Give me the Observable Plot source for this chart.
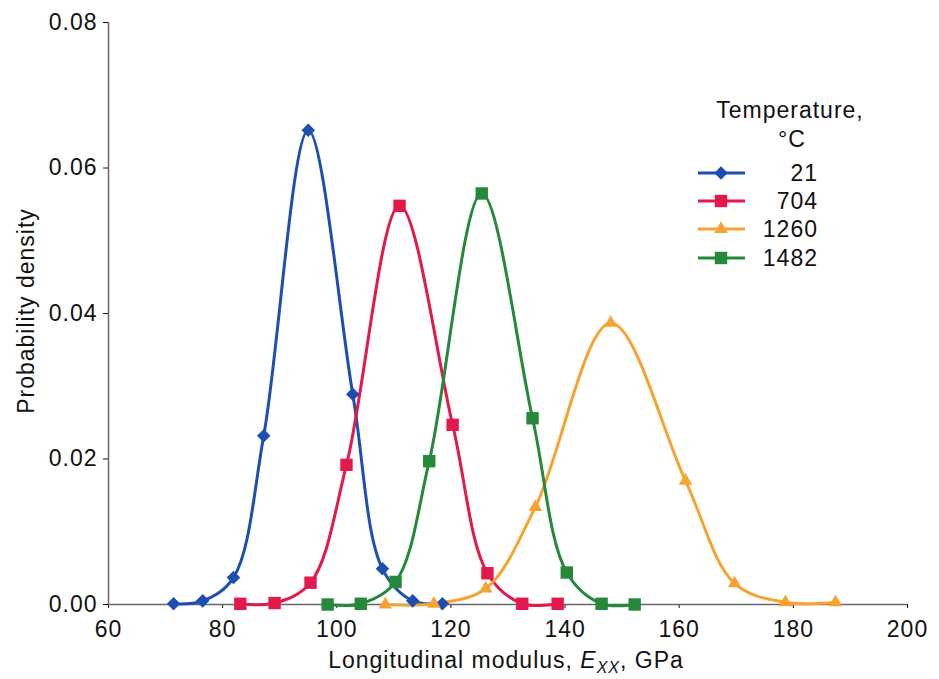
<!DOCTYPE html>
<html>
<head>
<meta charset="utf-8">
<script src="https://cdn.jsdelivr.net/npm/d3@7"></script>
<script src="https://cdn.jsdelivr.net/npm/@observablehq/plot@0.6"></script>
<style>
  html, body { margin: 0; padding: 0; background: #fff; }
  #chart { width: 939px; height: 679px; }
  svg { font-family: "Liberation Sans", Arial, Helvetica, sans-serif; }
  svg text { letter-spacing: 1px; }
</style>
</head>
<body>
<div id="chart"></div>
<script>
// ---- data ----
const temperatures = ["21", "704", "1260", "1482"];
const colors = ["#1d4fb3", "#e3194e", "#f7a331", "#25893a"];

const modulus21 = [71.4, 76.5, 81.9, 87.2, 95.0, 102.8, 108.0, 113.3, 118.5];
const density21 = [0.0001, 0.0005, 0.0037, 0.0232, 0.0652, 0.0289, 0.0049, 0.0005, 0.0001];

const modulus704 = [83.1, 89.1, 95.4, 101.7, 111.0, 120.3, 126.4, 132.5, 138.7];
const density704 = [0.0001, 0.0002, 0.0030, 0.0192, 0.0548, 0.0247, 0.0043, 0.0001, 0.0001];

const modulus1260 = [108.5, 117.0, 126.1, 134.8, 148.0, 161.1, 169.7, 178.6, 187.4];
const density1260 = [0.0000, 0.0001, 0.0022, 0.0134, 0.0387, 0.0170, 0.0029, 0.0003, 0.0003];

const modulus1482 = [98.4, 104.2, 110.3, 116.2, 125.4, 134.3, 140.3, 146.4, 152.2];
const density1482 = [0.0000, 0.0001, 0.0031, 0.0197, 0.0565, 0.0256, 0.0044, 0.0001, 0.0000];

const xTicks = [60, 80, 100, 120, 140, 160, 180, 200];
const yTicks = [0, 0.02, 0.04, 0.06, 0.08];

// ---- build table ----
const seriesX = [modulus21, modulus704, modulus1260, modulus1482];
const seriesY = [density21, density704, density1260, density1482];
const rows = [];
temperatures.forEach((t, i) => {
  seriesX[i].forEach((x, j) => rows.push({temp: t, x, y: seriesY[i][j]}));
});

const diamondSym = {
  draw(context, size) {
    const r = Math.sqrt(size / 2);
    context.moveTo(0, -r); context.lineTo(r, 0); context.lineTo(0, r); context.lineTo(-r, 0); context.closePath();
  }
};
const symbols = [diamondSym, "square", "triangle", "square"];
const radii = [5.4, 7.0, 5.0, 7.0];

const marks = [
  Plot.ruleY([0], {stroke: "#666", strokeWidth: 1.5}),
  Plot.ruleX([60], {stroke: "#666", strokeWidth: 1.5})
];
temperatures.forEach((t, i) => {
  const d = rows.filter(r => r.temp === t);
  marks.push(Plot.line(d, {x: "x", y: "y", stroke: colors[i], strokeWidth: 3, curve: "catmull-rom"}));
});
temperatures.forEach((t, i) => {
  const d = rows.filter(r => r.temp === t);
  marks.push(Plot.dot(d, {x: "x", y: "y", fill: colors[i], symbol: () => symbols[i], r: radii[i], stroke: "none"}));
});

const plot = Plot.plot({
  width: 939,
  height: 679,
  marginLeft: 108,
  marginRight: 32,
  marginTop: 22,
  marginBottom: 75,
  style: {fontSize: "23px", fontFamily: "'Liberation Sans', Arial, sans-serif", color: "#111", background: "#fff"},
  x: {domain: [60, 200], ticks: xTicks, tickSize: 4, tickPadding: 12, label: null, line: false, tickFormat: d3.format("d")},
  y: {domain: [0, 0.08], ticks: yTicks, tickSize: 5, tickPadding: 6, label: null, tickFormat: d3.format(".2f")},
  marks
});

const svg = d3.select(plot);

// y-axis title
svg.append("text")
  .attr("transform", "translate(34,311) rotate(-90)")
  .attr("text-anchor", "middle")
  .attr("font-size", 23)
  .attr("fill", "#111")
  .text("Probability density");

// x-axis title with italic subscript
const xt = svg.append("text")
  .attr("x", 506).attr("y", 668)
  .attr("text-anchor", "middle")
  .attr("font-size", 23)
  .attr("fill", "#111");
xt.append("tspan").text("Longitudinal modulus, ");
xt.append("tspan").attr("font-style", "italic").text("E");
xt.append("tspan").attr("font-style", "italic").attr("font-size", 16).attr("dy", 5).text("XX");
xt.append("tspan").attr("dy", -5).text(", GPa");

// legend
const lg = svg.append("g").attr("fill", "#111").attr("font-size", 23);
lg.append("text").attr("x", 790).attr("y", 118).attr("text-anchor", "middle").text("Temperature,");
lg.append("text").attr("x", 792).attr("y", 147).attr("text-anchor", "middle").text("°C");
const legendY = [173, 201, 229, 258];
temperatures.forEach((t, i) => {
  const g = lg.append("g").attr("transform", `translate(0,${legendY[i]})`);
  g.append("line").attr("x1", 698).attr("x2", 745).attr("y1", 0).attr("y2", 0)
    .attr("stroke", colors[i]).attr("stroke-width", 3);
  const sym = d3.symbol().type(i === 0 ? diamondSym : (i === 2 ? d3.symbolTriangle : d3.symbolSquare))
    .size(Math.PI * radii[i] * radii[i]);
  g.append("path").attr("transform", "translate(721,0)").attr("d", sym()).attr("fill", colors[i]);
  g.append("text").attr("x", 818).attr("y", 0).attr("dy", "0.36em").attr("text-anchor", "end").text(t);
});

document.getElementById("chart").appendChild(plot);
</script>
</body>
</html>
